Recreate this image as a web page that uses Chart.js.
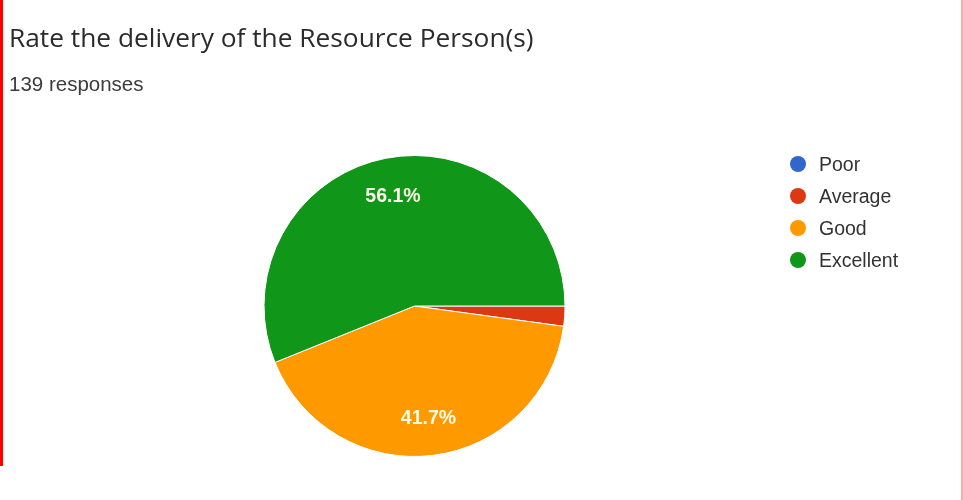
<!DOCTYPE html>
<html>
<head>
<meta charset="utf-8">
<script src="https://cdn.jsdelivr.net/npm/chart.js@4/dist/chart.umd.min.js"></script>
<style>
  html, body { margin: 0; padding: 0; background: #fff; }
  body { width: 963px; height: 500px; position: relative; overflow: hidden; font-family: Roboto, "Liberation Sans", Arial, sans-serif; }
  #title { position: absolute; left: 9px; top: 20px; font-family: "Open Sans", Roboto, sans-serif; font-size: 26.3px; line-height: 34px; color: #2b2b2b; white-space: nowrap; }
  #sub { position: absolute; left: 9px; top: 72px; font-family: "Liberation Sans", Arial, sans-serif; font-size: 20.5px; line-height: 24px; color: #3c3c3c; white-space: nowrap; }
  #chartWrap { position: absolute; left: 0; top: 0; width: 963px; height: 500px; }
  #legend { position: absolute; left: 790px; top: 153px; font-family: "Liberation Sans", Arial, sans-serif; font-size: 19.5px; color: #333; }
  .li { height: 32px; position: relative; white-space: nowrap; }
  .dot { position: absolute; left: 0; top: 3px; width: 16px; height: 16px; border-radius: 50%; }
  .lt { position: absolute; left: 29px; top: 0; line-height: 22px; }
  #bl { position: absolute; left: 0; top: 0; width: 3px; height: 466px; background: #ff0000; }
  #br { position: absolute; left: 961px; top: 0; width: 2px; height: 500px; background: #ffaaaa; }
</style>
</head>
<body>
<div id="chartWrap"><canvas id="c" width="963" height="500"></canvas></div>
<div id="title">Rate the delivery of the Resource Person(s)</div>
<div id="sub">139 responses</div>
<div id="legend"></div>
<div id="bl"></div>
<div id="br"></div>
<script>
const categories = ["Poor", "Average", "Good", "Excellent"];
const counts = [0, 3, 58, 78];
const colors = ["#3366cc", "#dc3912", "#ff9900", "#109618"];

// HTML legend
const lg = document.getElementById('legend');
categories.forEach((c, i) => {
  const d = document.createElement('div');
  d.className = 'li';
  d.innerHTML = '<span class="dot" style="background:' + colors[i] + '"></span><span class="lt">' + c + '</span>';
  lg.appendChild(d);
});

const total = counts.reduce((a, b) => a + b, 0);

const pctLabels = {
  id: 'pctLabels',
  afterDatasetsDraw(chart) {
    const ctx = chart.ctx;
    const meta = chart.getDatasetMeta(0);
    ctx.save();
    ctx.font = 'bold 19.5px "Liberation Sans", Arial, sans-serif';
    ctx.fillStyle = '#fffbe8';
    ctx.textAlign = 'center';
    ctx.textBaseline = 'middle';
    meta.data.forEach((arc, i) => {
      const pct = counts[i] / total * 100;
      if (pct < 5) return;
      const p = arc.getProps(['x', 'y', 'startAngle', 'endAngle', 'outerRadius'], true);
      const mid = (p.startAngle + p.endAngle) / 2;
      const r = p.outerRadius * 0.75;
      ctx.fillText(pct.toFixed(1) + '%', p.x + Math.cos(mid) * r, p.y + Math.sin(mid) * r + 1);
    });
    ctx.restore();
  }
};

new Chart(document.getElementById('c'), {
  type: 'pie',
  data: {
    labels: categories,
    datasets: [{
      data: counts,
      backgroundColor: colors,
      borderColor: '#ffffff',
      borderWidth: 1
    }]
  },
  options: {
    responsive: false,
    devicePixelRatio: 1,
    animation: false,
    rotation: 90,
    layout: { padding: { left: 263, right: 397, top: 155, bottom: 43 } },
    plugins: {
      legend: { display: false },
      tooltip: { enabled: false }
    }
  },
  plugins: [pctLabels]
});
</script>
</body>
</html>
